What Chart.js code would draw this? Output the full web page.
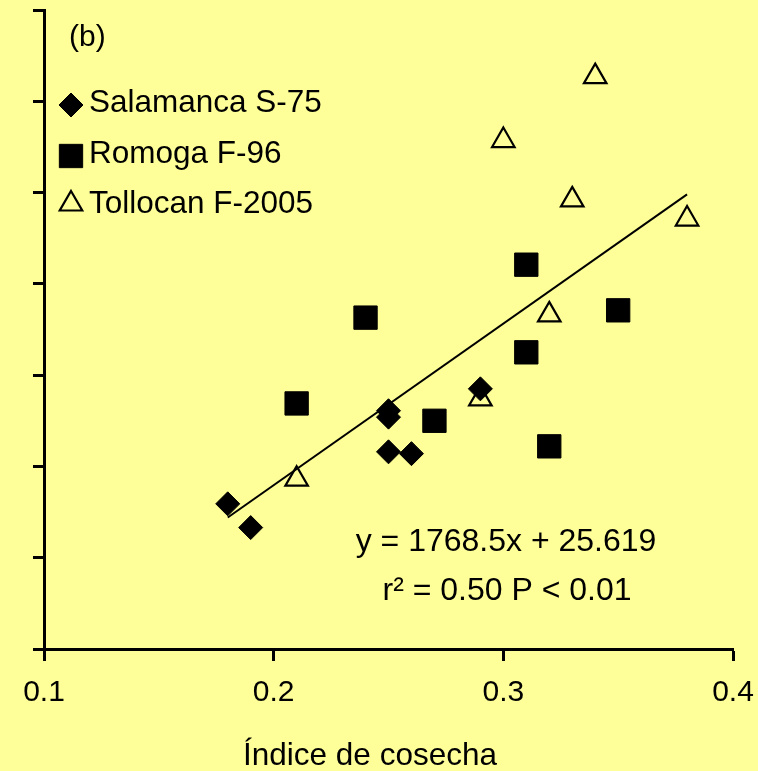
<!DOCTYPE html>
<html>
<head>
<meta charset="utf-8">
<script src="https://cdn.jsdelivr.net/npm/chart.js"></script>
<style>
  html, body { margin: 0; padding: 0; background: #ffff99; }
  #wrap { width: 758px; height: 771px; position: relative; }
</style>
</head>
<body>
<div id="wrap"><canvas id="harvestChart"></canvas></div>
<script>
const seriesNames = ["Salamanca S-75", "Romoga F-96", "Tollocan F-2005"];

// Índice de cosecha (x) vs. y
const salamancaX = [0.18, 0.19, 0.25, 0.25, 0.25, 0.26, 0.29];
const salamancaY = [359, 333, 461, 454, 416, 414, 485];
const romogaX = [0.21, 0.24, 0.27, 0.31, 0.31, 0.32, 0.35];
const romogaY = [469, 563, 450, 621, 525, 422, 571];
const tollocanX = [0.21, 0.29, 0.30, 0.32, 0.33, 0.34, 0.38];
const tollocanY = [386, 474, 757, 566, 692, 827, 671];

// fitted line y = 1768.5x + 25.619, drawn over the x range of the data
const trendX = [0.18, 0.38];
const trendY = [344, 698];

const xTicks = [0.1, 0.2, 0.3, 0.4];
const yTicks = [200, 300, 400, 500, 600, 700, 800, 900];

const FONT = "'Liberation Sans', Arial, sans-serif";
const toPoints = (xs, ys) => xs.map((x, i) => ({ x: x, y: ys[i] }));

// keep the plot area where the reference has it
const noScalePadding = (scale) => {
  scale.paddingTop = 0;
  scale.paddingBottom = 0;
  scale.paddingLeft = 0;
  scale.paddingRight = 0;
};

const bgPlugin = {
  id: "bg",
  beforeDraw(chart) {
    const ctx = chart.ctx;
    ctx.save();
    ctx.fillStyle = "#ffff99";
    ctx.fillRect(0, 0, chart.width, chart.height);
    ctx.restore();
  },
};

const textPlugin = {
  id: "texts",
  afterDraw(chart) {
    const ctx = chart.ctx;
    ctx.save();
    ctx.fillStyle = "#000";
    ctx.textBaseline = "alphabetic";

    // panel letter
    ctx.font = "30px " + FONT;
    ctx.textAlign = "left";
    ctx.fillText("(b)", 69, 46);

    // legend
    const rows = [112, 163, 213];
    const marks = [105, 156, 204];
    chart.data.datasets.slice(0, 3).forEach((ds, i) => {
      const opts = {
        pointStyle: ds.pointStyle,
        radius: ds.pointRadius,
        borderWidth: ds.borderWidth,
        rotation: 0,
      };
      ctx.fillStyle = ds.backgroundColor;
      ctx.strokeStyle = ds.borderColor;
      ctx.lineWidth = ds.borderWidth;
      Chart.helpers.drawPoint(ctx, opts, 71, marks[i]);
      ctx.fillStyle = "#000";
      ctx.font = "31.5px " + FONT;
      ctx.fillText(seriesNames[i], 89, rows[i]);
    });

    // equation
    ctx.font = "32px " + FONT;
    ctx.textAlign = "center";
    ctx.fillText("y = 1768.5x + 25.619", 506, 551);
    ctx.fillText("r\u00b2 = 0.50 P < 0.01", 507, 600);

    // x axis title
    ctx.font = "31.5px " + FONT;
    ctx.fillText("\u00cdndice de cosecha", 370, 765);
    ctx.restore();
  },
};

new Chart(document.getElementById("harvestChart"), {
  type: "scatter",
  data: {
    datasets: [
      {
        label: seriesNames[0],
        data: toPoints(salamancaX, salamancaY),
        pointStyle: "rectRot",
        pointRadius: 12,
        pointHoverRadius: 12,
        backgroundColor: "#000",
        borderColor: "#000",
        borderWidth: 1,
      },
      {
        label: seriesNames[1],
        data: toPoints(romogaX, romogaY),
        pointStyle: "rect",
        pointRadius: 16.5,
        pointHoverRadius: 16.5,
        backgroundColor: "#000",
        borderColor: "#000",
        borderWidth: 1,
      },
      {
        label: seriesNames[2],
        data: toPoints(tollocanX, tollocanY),
        pointStyle: "triangle",
        pointRadius: 13,
        pointHoverRadius: 13,
        backgroundColor: "rgba(0,0,0,0)",
        borderColor: "#000",
        borderWidth: 2.2,
      },
      {
        label: "trend",
        data: toPoints(trendX, trendY),
        showLine: true,
        pointRadius: 0,
        borderColor: "#000",
        borderWidth: 2,
        order: -1,
      },
    ],
  },
  options: {
    responsive: true,
    maintainAspectRatio: false,
    animation: false,
    layout: {
      autoPadding: false,
      padding: { top: 10, right: 25, left: 0, bottom: 0 },
    },
    plugins: {
      legend: { display: false },
      tooltip: { enabled: false },
    },
    scales: {
      x: {
        type: "linear",
        min: xTicks[0],
        max: xTicks[xTicks.length - 1],
        afterBuildTicks: (scale) => {
          scale.ticks = xTicks.map((v) => ({ value: v }));
        },
        afterFit: (scale) => {
          scale.height = 122;
          noScalePadding(scale);
        },
        ticks: {
          color: "#000",
          font: { family: FONT, size: 30 },
          padding: 14,
          callback: (v) => v.toFixed(1),
        },
        grid: {
          drawOnChartArea: false,
          tickLength: 12,
          tickWidth: 3,
          tickColor: "#000",
        },
        border: { color: "#000", width: 3 },
      },
      y: {
        min: yTicks[0],
        max: yTicks[yTicks.length - 1],
        afterBuildTicks: (scale) => {
          scale.ticks = yTicks.map((v) => ({ value: v }));
        },
        afterFit: (scale) => {
          scale.width = 44;
          noScalePadding(scale);
        },
        ticks: { display: false },
        grid: {
          drawOnChartArea: false,
          tickLength: 11,
          tickWidth: 3,
          tickColor: "#000",
        },
        border: { color: "#000", width: 3 },
      },
    },
  },
  plugins: [bgPlugin, textPlugin],
});
</script>
</body>
</html>
